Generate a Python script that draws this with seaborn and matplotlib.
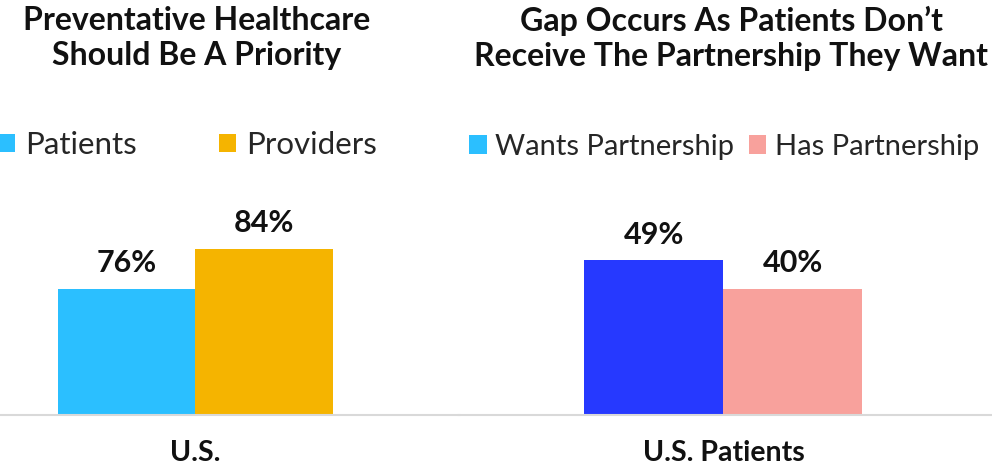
import matplotlib
matplotlib.use("Agg")
import matplotlib.pyplot as plt
from matplotlib.patches import Patch
import pandas as pd
import seaborn as sns

# data
left_title = "Preventative Healthcare\nShould Be A Priority"
left_category = ["U.S."]
left_groups = ["Patients", "Providers"]
left_values = [76, 84]

right_title = "Gap Occurs As Patients Don\u2019t\nReceive The Partnership They Want"
right_category = ["U.S. Patients"]
right_groups = ["Wants Partnership", "Has Partnership"]
right_values = [49, 40]

left_colors = ["#2BBFFF", "#F5B400"]
right_colors = ["#2639FF", "#F8A19C"]
# legend swatch for "Wants" is light blue in the original
right_legend_colors = ["#2BBFFF", "#F8A19C"]

sns.set_theme(style="white")
plt.rcParams["font.family"] = ["Lato", "DejaVu Sans"]

fig = plt.figure(figsize=(9.92, 4.68), dpi=100)

W, H = 992, 468
bottom = (H - 415) / H
height = 215 / H
ax1 = fig.add_axes([0, bottom, 459 / W, height])
ax2 = fig.add_axes([459 / W, bottom, (992 - 459) / W, height])


def draw_panel(ax, cats, groups, values, colors, xlim, ylim):
    df = pd.DataFrame({"cat": cats * len(groups), "group": groups, "value": values})
    sns.barplot(data=df, x="cat", y="value", hue="group", hue_order=groups,
                palette=colors, width=0.8, saturation=1, legend=False,
                linewidth=0, ax=ax)
    for cont in ax.containers:
        ax.bar_label(cont, labels=[f"{v:.0f}%" for v in cont.datavalues],
                     padding=8, fontsize=22, fontweight="bold", color="#111111")
    ax.set_xlim(*xlim)
    ax.set_ylim(*ylim)
    ax.set_xlabel("")
    ax.set_ylabel("")
    ax.set_yticks([])
    ax.tick_params(axis="x", length=0, pad=18)
    for lab in ax.get_xticklabels():
        lab.set_fontsize(20.5)
        lab.set_fontweight("bold")
        lab.set_color("#111111")
    for s in ["top", "left", "right"]:
        ax.spines[s].set_visible(False)
    ax.spines["bottom"].set_color("#D9D9D9")
    ax.spines["bottom"].set_linewidth(1.5)
    ax.patch.set_alpha(0)


draw_panel(ax1, left_category, left_groups, left_values, left_colors,
           (-0.568, 0.766), (50.7, 93.7))
draw_panel(ax2, right_category, right_groups, right_values, right_colors,
           (-0.761, 0.773), (0, 68.0))

# titles
fig.text(197 / W, 1 - 6 / H, left_title, ha="center", va="top",
         fontsize=23, fontweight="bold", color="#111111", linespacing=1.26)
fig.text(731 / W, 1 - 6 / H, right_title, ha="center", va="top",
         fontsize=23, fontweight="bold", color="#111111", linespacing=1.26)

# legends
h1 = [Patch(facecolor=c, edgecolor="none") for c in left_colors]
fig.legend(h1, left_groups, loc="center left", bbox_to_anchor=(-0.002, 1 - 145 / H),
           ncol=2, frameon=False, fontsize=22.5, handlelength=0.55, handleheight=0.55,
           handletextpad=0.33, columnspacing=2.6, borderpad=0, borderaxespad=0)
h2 = [Patch(facecolor=c, edgecolor="none") for c in right_legend_colors]
fig.legend(h2, right_groups, loc="center left", bbox_to_anchor=(469 / W, 1 - 147 / H),
           ncol=2, frameon=False, fontsize=21, handlelength=0.6, handleheight=0.6,
           handletextpad=0.3, columnspacing=0.5, borderpad=0, borderaxespad=0)

fig.savefig("out.png", dpi=100)
